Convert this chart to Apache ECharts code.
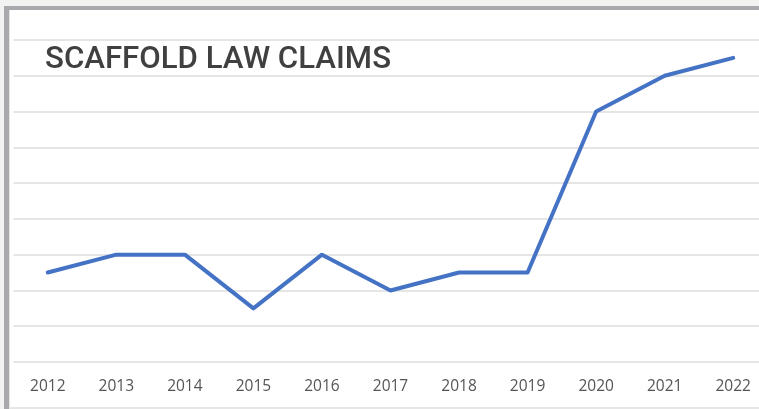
<!DOCTYPE html>
<html>
<head>
<meta charset="utf-8">
<style>html,body{margin:0;padding:0;background:#f2f2f2;}#c{width:759px;height:409px;}</style>
<script src="https://cdn.jsdelivr.net/npm/echarts@6/dist/echarts.min.js"></script>
</head>
<body>
<div id="c"></div>
<script>
const years = ['2012','2013','2014','2015','2016','2017','2018','2019','2020','2021','2022'];
const claims = [2.5, 3, 3, 1.5, 3, 2, 2.5, 2.5, 7, 8, 8.5];
const titleText = 'SCAFFOLD LAW CLAIMS';

const chart = echarts.init(document.getElementById('c'));
chart.setOption({
  backgroundColor: '#f2f2f2',
  animation: false,
  graphic: [
    {type: 'rect', z: -10, shape: {x: 4, y: 6, width: 800, height: 401}, style: {fill: '#ffffff'}},
    {type: 'rect', z: -9, shape: {x: 4, y: 6, width: 5.3, height: 403}, style: {fill: '#a9a9ad'}},
    {type: 'rect', z: -9, shape: {x: 4, y: 6, width: 800, height: 4}, style: {fill: '#a9a9ad'}},
    {type: 'rect', z: -9, shape: {x: 9, y: 407, width: 800, height: 2}, style: {fill: '#e6e6e6'}}
  ],
  title: {
    text: titleText,
    left: 40, top: 40,
    textStyle: {fontFamily: 'Roboto', fontWeight: 500, fontSize: 31.2, color: '#404040'}
  },
  grid: {left: 13.5, width: 754, top: 40, bottom: 47, outerBoundsMode: 'none', containLabel: false},
  xAxis: {
    type: 'category', data: years, boundaryGap: true,
    axisLine: {show: false}, axisTick: {show: false},
    axisLabel: {color: '#555555', fontSize: 15.5, fontFamily: 'Open Sans', margin: 17}
  },
  yAxis: {
    type: 'value', min: 0, max: 9, interval: 1,
    axisLabel: {show: false}, axisLine: {show: false}, axisTick: {show: false},
    splitLine: {lineStyle: {color: '#dcdcdc', width: 1.5}}
  },
  series: [{
    type: 'line', data: claims, symbol: 'none',
    lineStyle: {color: '#4472c4', width: 4, cap: 'round', join: 'round'}
  }]
});
</script>
</body>
</html>
